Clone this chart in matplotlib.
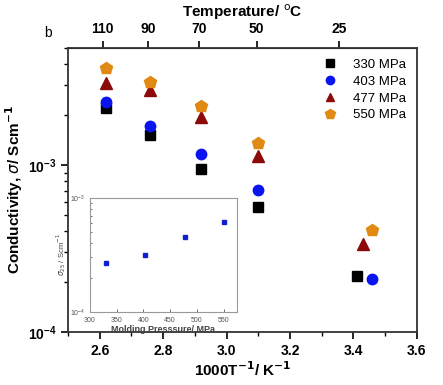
import matplotlib
matplotlib.use('Agg')
import matplotlib.pyplot as plt
from matplotlib.ticker import LogLocator, NullFormatter, MultipleLocator

plt.rcParams['font.family'] = ['Liberation Sans', 'DejaVu Sans']

# main plot data (1000/T vs conductivity)
x_330 = [2.62, 2.76, 2.92, 3.10, 3.41]
s_330 = [2.2e-3, 1.51e-3, 9.5e-4, 5.6e-4, 2.15e-4]
x_403 = [2.62, 2.76, 2.92, 3.10, 3.46]
s_403 = [2.37e-3, 1.71e-3, 1.16e-3, 7.1e-4, 2.07e-4]
x_477 = [2.62, 2.76, 2.92, 3.10, 3.43]
s_477 = [3.08e-3, 2.8e-3, 1.93e-3, 1.13e-3, 3.34e-4]
x_550 = [2.62, 2.76, 2.92, 3.10, 3.46]
s_550 = [3.78e-3, 3.12e-3, 2.24e-3, 1.35e-3, 4.1e-4]

temp_ticks = [110, 90, 70, 50, 25]

# inset data
pressure = [330, 403, 477, 550]
sigma25 = [2.7e-4, 3.15e-4, 4.5e-4, 6.2e-4]

fig = plt.figure(figsize=(4.43, 3.85), dpi=100)
ax = fig.add_axes([0.1535, 0.138, 0.7875, 0.737])

ax.semilogy(x_330, s_330, 's', color='black', ms=6.5, ls='none', label='330 MPa')
ax.semilogy(x_403, s_403, 'o', color='#0a14f0', ms=7.5, ls='none', label='403 MPa')
ax.semilogy(x_477, s_477, '^', color='#8b0a0a', ms=8, ls='none', label='477 MPa')
ax.semilogy(x_550, s_550, 'p', color='#e08a14', ms=9, ls='none', label='550 MPa')

ax.set_xlim(2.5, 3.6)
ax.set_ylim(1e-4, 5e-3)
ax.xaxis.set_major_locator(MultipleLocator(0.2))
ax.xaxis.set_minor_locator(MultipleLocator(0.1))
ax.yaxis.set_minor_locator(LogLocator(subs=range(2, 10)))
ax.yaxis.set_minor_formatter(NullFormatter())
ax.tick_params(which='both', direction='out', top=False, right=False)
ax.tick_params(which='major', length=5, width=1.2, labelsize=10)
ax.tick_params(which='minor', length=3, width=1)
for lab in ax.get_xticklabels() + ax.get_yticklabels():
    lab.set_fontweight('bold')
for sp in ax.spines.values():
    sp.set_linewidth(1.3)
    sp.set_color('#333333')

ax.set_xlabel('1000T$^{\\mathbf{-1}}$/ K$^{\\mathbf{-1}}$', fontsize=11, fontweight='bold', labelpad=2)
ax.set_ylabel('Conductivity, $\\sigma$/ Scm$^{\\mathbf{-1}}$', fontsize=11, fontweight='bold', labelpad=2)

leg = ax.legend(loc='upper right', frameon=False, fontsize=9.5, handletextpad=0.8,
                labelspacing=0.35, borderaxespad=0.4, markerscale=0.8)

# top temperature axis
top = ax.secondary_xaxis('top', functions=(lambda x: 1000.0 / x - 273.15,
                                            lambda t: 1000.0 / (t + 273.15)))
top.set_xticks(temp_ticks)
top.tick_params(direction='out', length=5, width=1.2, labelsize=10)
for lab in top.get_xticklabels():
    lab.set_fontweight('bold')
top.set_xlabel('Temperature/ $^{\\mathrm{o}}$C', fontsize=11, fontweight='bold', labelpad=4)

fig.text(0.1, 0.905, 'b', fontsize=10)

# inset: sigma at 25 C vs molding pressure
ins = fig.add_axes([0.203, 0.19, 0.332, 0.296])
ins.semilogy(pressure, sigma25, 's', color='#1020d0', ms=3.5, ls='none')
ins.set_xlim(300, 575)
ins.set_ylim(1e-4, 1e-3)
ins.set_xticks([300, 350, 400, 450, 500, 550])
ins.yaxis.set_minor_locator(LogLocator(subs=range(2, 10)))
ins.yaxis.set_minor_formatter(NullFormatter())
ins.tick_params(which='both', direction='in', labelsize=5, length=2, width=0.6, colors='#555555')
ins.tick_params(which='minor', length=1.5)
for sp in ins.spines.values():
    sp.set_linewidth(0.8)
    sp.set_color('#999999')
ins.set_xlabel('Molding Presssure/ MPa', fontsize=6.5, fontweight='bold', color='#444444', labelpad=1)
ins.set_ylabel('$\\sigma_{25}$ / Scm$^{-1}$', fontsize=5.5, color='#444444', labelpad=1)

fig.savefig('out.png', dpi=100)
